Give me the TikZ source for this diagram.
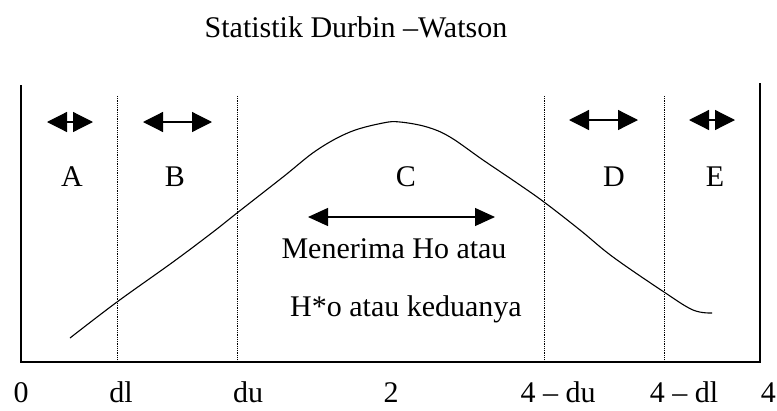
\documentclass[tikz,border=0pt]{standalone}
\usepackage{fontspec}
\setmainfont{Liberation Serif}
\usetikzlibrary{arrows.meta}
\begin{document}
\begin{tikzpicture}[x=1pt, y=-1pt,
    lbl/.style={font=\fontsize{30}{36}\selectfont, inner sep=0pt, anchor=base},
    darr/.style={{Triangle[length=20pt,width=20pt]}-{Triangle[length=20pt,width=20pt]}, line width=1.2pt},
    grens/.style={densely dotted, line width=0.8pt}]
    \useasboundingbox (0,0) rectangle (777,410);

    % Judul
    \node[lbl] (judul) at (356,37) {Statistik Durbin –Watson};

    % Kerangka (tanpa garis atas)
    \coordinate (kiriAtas) at (21,85);
    \coordinate (kiriBawah) at (21,362);
    \coordinate (kananBawah) at (760,362);
    \coordinate (kananAtas) at (760,83);
    \draw[line width=1.4pt] (kiriAtas) -- (kiriBawah) -- (kananBawah) -- (kananAtas);

    % Batas daerah dl, du, 4-du, 4-dl
    \foreach \x/\nm in {117/dl, 237/du, 544/udu, 664/udl} {
        \coordinate (\nm Atas) at (\x,96);
        \coordinate (\nm Bawah) at (\x,362);
        \draw[grens] (\nm Atas) -- (\nm Bawah);
    }

    % Kurva distribusi
    \draw[line width=1.1pt] plot[smooth, tension=0.6] coordinates {
        (70,338) (117,302) (173,262) (213,232) (237,213)
        (283,177) (317,150) (350,132) (383,123) (400,122) (427,127) (450,137)
        (483,160) (517,183) (544,202) (580,230) (613,257) (664,292) (693,310) (712,313)};

    % Panah tiap daerah
    \coordinate (aKiri) at (47,122);  \coordinate (aKanan) at (93,122);
    \coordinate (bKiri) at (143,122); \coordinate (bKanan) at (212,122);
    \coordinate (cKiri) at (308,217); \coordinate (cKanan) at (495,217);
    \coordinate (dKiri) at (569,120); \coordinate (dKanan) at (638,120);
    \coordinate (eKiri) at (689,120); \coordinate (eKanan) at (735,120);
    \draw[darr] (aKiri) -- (aKanan);
    \draw[darr] (bKiri) -- (bKanan);
    \draw[darr, {Triangle[length=20pt,width=18pt]}-{Triangle[length=20pt,width=18pt]}] (cKiri) -- (cKanan);
    \draw[darr] (dKiri) -- (dKanan);
    \draw[darr] (eKiri) -- (eKanan);

    % Nama daerah
    \node[lbl] (A) at (72,186) {A};
    \node[lbl] (B) at (175,186) {B};
    \node[lbl] (C) at (406,186) {C};
    \node[lbl] (D) at (614,186) {D};
    \node[lbl] (E) at (715,186) {E};
    \node[lbl] (terima) at (394,258) {Menerima Ho atau};
    \node[lbl] (kedua) at (406,316) {H*o atau keduanya};

    % Sumbu bawah
    \node[lbl] (nol) at (21,402) {0};
    \node[lbl] (tdl) at (121,402) {dl};
    \node[lbl] (tdu) at (248,402) {du};
    \node[lbl] (dua) at (391,402) {2};
    \node[lbl] (tudu) at (558,402) {4 – du};
    \node[lbl] (tudl) at (684,402) {4 – dl};
    \node[lbl, anchor=base east] (empat) at (776,402) {4};
\end{tikzpicture}
\end{document}
